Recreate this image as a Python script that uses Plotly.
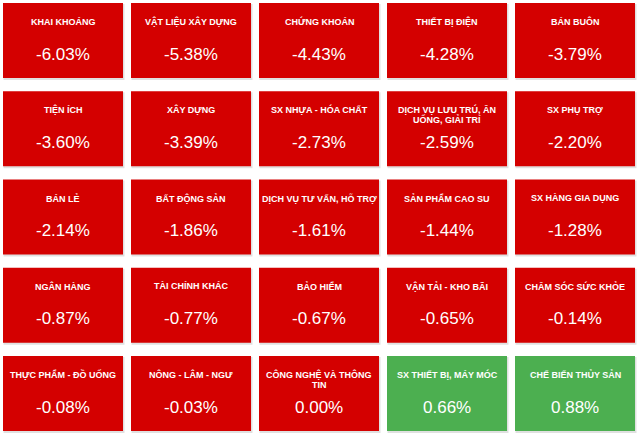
import plotly.graph_objects as go

sectors = [
    "KHAI KHOÁNG", "VẬT LIỆU XÂY DỰNG", "CHỨNG KHOÁN", "THIẾT BỊ ĐIỆN", "BÁN BUÔN",
    "TIỆN ÍCH", "XÂY DỰNG", "SX NHỰA - HÓA CHẤT", "DỊCH VỤ LƯU TRÚ, ĂN<br>UỐNG, GIẢI TRÍ", "SX PHỤ TRỢ",
    "BÁN LẺ", "BẤT ĐỘNG SẢN", "DỊCH VỤ TƯ VẤN, HỖ TRỢ", "SẢN PHẨM CAO SU", "SX HÀNG GIA DỤNG",
    "NGÂN HÀNG", "TÀI CHÍNH KHÁC", "BẢO HIỂM", "VẬN TẢI - KHO BÃI", "CHĂM SÓC SỨC KHỎE",
    "THỰC PHẨM - ĐỒ UỐNG", "NÔNG - LÂM - NGƯ", "CÔNG NGHỆ VÀ THÔNG<br>TIN", "SX THIẾT BỊ, MÁY MÓC", "CHẾ BIẾN THỦY SẢN",
]
changes = [
    -6.03, -5.38, -4.43, -4.28, -3.79,
    -3.60, -3.39, -2.73, -2.59, -2.20,
    -2.14, -1.86, -1.61, -1.44, -1.28,
    -0.87, -0.77, -0.67, -0.65, -0.14,
    -0.08, -0.03, 0.00, 0.66, 0.88,
]

NCOLS = 5
X0, Y0 = 3, 3
TW, TH = 120, 75
SX, SY = 128, 88.25
RED = "#d40000"
GREEN = "#4caf50"
FONT = "Arial, Liberation Sans, sans-serif"

fig = go.Figure()
shapes = []
annotations = []
for i, (name, val) in enumerate(zip(sectors, changes)):
    r, c = divmod(i, NCOLS)
    x = X0 + c * SX
    y = Y0 + r * SY
    color = GREEN if val > 0 else RED
    shapes.append(dict(type="rect", xref="x", yref="y", x0=x + 0.5, x1=x + TW + 1.5, y0=y + 1, y1=y + TH + 2,
                       fillcolor="rgba(0,0,0,0.12)", line=dict(width=0), layer="below"))
    shapes.append(dict(type="rect", xref="x", yref="y", x0=x, x1=x + TW, y0=y, y1=y + TH,
                       fillcolor=color, line=dict(width=0), layer="below"))
    for k, line in enumerate(name.split("<br>")):
        annotations.append(dict(x=x + TW / 2, y=y + 18.5 + 10 * k, xref="x", yref="y", text="<b>" + line + "</b>",
                                showarrow=False, xanchor="center", yanchor="middle",
                                font=dict(family=FONT, size=9, color="white")))
    annotations.append(dict(x=x + TW / 2, y=y + 51, xref="x", yref="y", text=f"{val:.2f}%",
                            showarrow=False, xanchor="center", yanchor="middle",
                            font=dict(family=FONT, size=17, color="white")))

fig.update_layout(
    width=640, height=433,
    margin=dict(l=0, r=0, t=0, b=0),
    paper_bgcolor="white", plot_bgcolor="white",
    shapes=shapes, annotations=annotations,
    xaxis=dict(range=[0, 640], visible=False, fixedrange=True),
    yaxis=dict(range=[433, 0], visible=False, fixedrange=True),
    showlegend=False,
)
fig.write_html("out.html", config={"displayModeBar": False},
               post_script="document.body.style.margin='0';document.body.style.overflow='hidden';")
